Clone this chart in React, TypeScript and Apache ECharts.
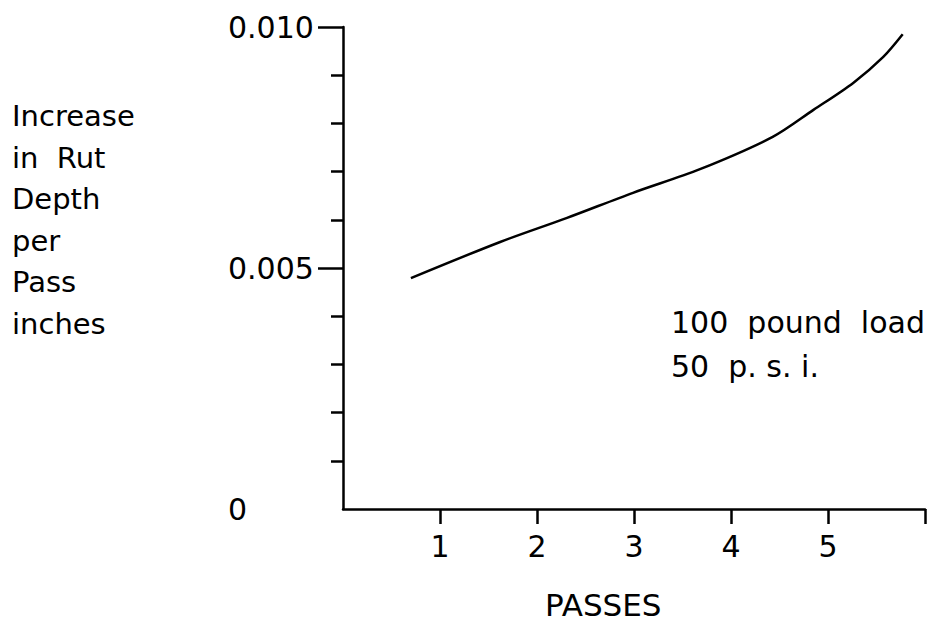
import React, { useEffect, useRef } from "react";
import * as echarts from "echarts";

const passes = [0.7, 1.62, 2.31, 2.99, 3.68, 4.43, 4.85, 5.26, 5.57, 5.77];
const rutIncrease = [0.00479, 0.00554, 0.00604, 0.00656, 0.00705, 0.00772, 0.00828, 0.00884, 0.00938, 0.00985];

const yMinorTicks = [0.001, 0.002, 0.003, 0.004, 0.006, 0.007, 0.008, 0.009];
const yMajorTicks = [0.005, 0.01];
const yLabels = [0, 0.005, 0.01];
const xTicks = [1, 2, 3, 4, 5, 6];
const xLabels = [1, 2, 3, 4, 5];

const yTitleLines = ["Increase", "in  Rut", "Depth", "per", "Pass", "inches"];
const xTitle = "PASSES";
const noteLines = ["100  pound  load", "50  p. s. i."];

const FONT = "DejaVu Sans";

export default function App() {
  const ref = useRef<HTMLDivElement>(null);
  useEffect(() => {
    if (!ref.current) return;
    const chart = echarts.init(ref.current, undefined, { renderer: "svg" });
    const black = "#000";
    chart.setOption({
      animation: false,
      backgroundColor: "#fff",
      grid: { left: 343, right: 5, top: 27, bottom: 113, containLabel: false },
      xAxis: {
        type: "value",
        min: 0,
        max: 6,
        interval: 1,
        axisLine: { show: true, onZero: false, lineStyle: { color: black, width: 2.5 } },
        axisTick: { show: true, length: 15, customValues: xTicks, lineStyle: { color: black, width: 2.5 } },
        axisLabel: {
          customValues: xLabels,
          margin: 22,
          color: black,
          fontSize: 30,
          fontFamily: FONT,
        },
        splitLine: { show: false },
      },
      yAxis: [
        {
          type: "value",
          min: 0,
          max: 0.01,
          interval: 0.001,
          axisLine: { show: true, onZero: false, lineStyle: { color: black, width: 2.5 } },
          axisTick: { show: true, length: 12, customValues: yMinorTicks, lineStyle: { color: black, width: 2.5 } },
          axisLabel: { show: false },
          splitLine: { show: false },
        },
        {
          type: "value",
          position: "left",
          min: 0,
          max: 0.01,
          interval: 0.005,
          axisLine: { show: false },
          axisTick: { show: true, length: 25, customValues: yMajorTicks, lineStyle: { color: black, width: 2.5 } },
          axisLabel: {
            customValues: yLabels,
            align: "left",
            margin: 115,
            color: black,
            fontSize: 30,
            fontFamily: FONT,
            formatter: (v: number) => (v === 0 ? "0" : v.toFixed(3)),
          },
          splitLine: { show: false },
        },
      ],
      series: [
        {
          type: "line",
          data: passes.map((p, i) => [p, rutIncrease[i]]),
          smooth: 0.3,
          showSymbol: false,
          lineStyle: { color: black, width: 2.5 },
        },
      ],
      graphic: [
        ...yTitleLines.map((t, i) => ({
          type: "text",
          x: 12,
          y: 116 + i * 41.5,
          style: { text: t, fill: black, font: `29px '${FONT}'`, verticalAlign: "middle" },
        })),
        {
          type: "text",
          x: 545,
          y: 605,
          style: { text: xTitle, fill: black, font: `31px '${FONT}'`, verticalAlign: "middle" },
        },
        ...noteLines.map((t, i) => ({
          type: "text",
          x: 671,
          y: 322 + i * 44,
          style: { text: t, fill: black, font: `30px '${FONT}'`, verticalAlign: "middle" },
        })),
      ],
    });
    return () => chart.dispose();
  }, []);
  return <div ref={ref} style={{ width: 930, height: 622, position: "absolute", left: 0, top: 0 }} />;
}
